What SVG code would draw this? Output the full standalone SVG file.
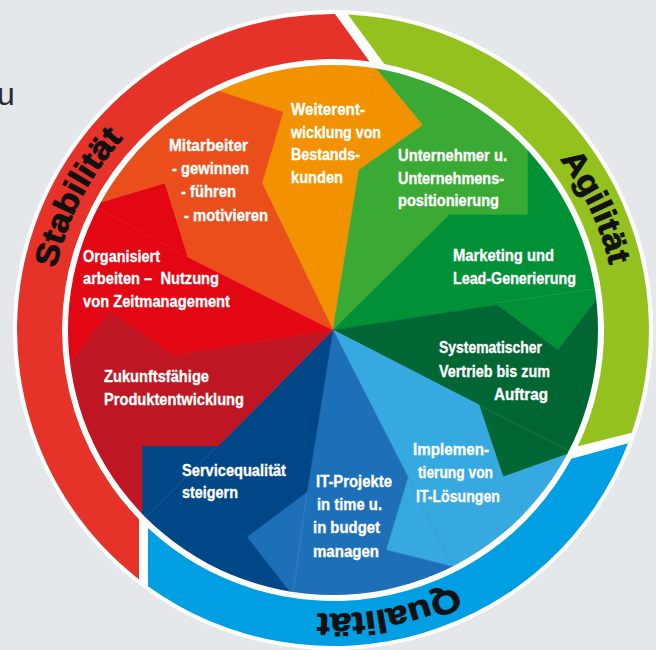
<svg xmlns="http://www.w3.org/2000/svg" width="656" height="650" viewBox="0 0 656 650">
<style>
.lbl{font-family:"Liberation Sans",Arial,sans-serif;font-weight:bold;font-size:17px;fill:#ffffff;stroke:#ffffff;stroke-width:0.35;white-space:pre}
.ring{font-family:"Liberation Sans",Arial,sans-serif;font-weight:bold;font-size:32px;fill:#111111;stroke:#111111;stroke-width:0.9}
.side{font-family:"Liberation Sans",Arial,sans-serif;font-size:32px;fill:#2b2b2b}
.seam{fill:none;stroke:#ffffff;stroke-opacity:0.16;stroke-width:0.7}
</style>
<defs>
<clipPath id="pieClip"><circle cx="333" cy="330" r="265"/></clipPath>
<path id="pStab" d="M55.7,268.5 A284,284 0 0 1 170.1,97.4"/>
<path id="pAgil" d="M559.8,159.1 A284,284 0 0 1 617,330"/>
<path id="pQual" d="M455.3,586.3 A284,284 0 0 1 259.5,604.3"/>
</defs>
<rect x="0" y="0" width="656" height="650" fill="#e5e8eb"/>
<text class="side" x="-3" y="105">u</text>
<circle cx="333" cy="330" r="320" fill="#ffffff"/>
<g id="ring-stabilitaet">
<path d="M139,579.4 A316,316 0 0 1 335,14 L369.5,61.5 A271,271 0 0 0 139,519.2 Z" fill="#e6332a"/>
<text class="ring"><textPath href="#pStab" textLength="148" lengthAdjust="spacingAndGlyphs">Stabilität</textPath></text>
</g>
<g id="ring-agilitaet">
<path d="M348,14.4 A316,316 0 0 1 631.8,432.8 L577.8,446.3 A271,271 0 0 0 384.3,63.9 Z" fill="#95c11f"/>
<text class="ring"><textPath href="#pAgil" textLength="118" lengthAdjust="spacingAndGlyphs">Agilität</textPath></text>
</g>
<g id="ring-qualitaet">
<path d="M628,443.3 A316,316 0 0 1 148,586.2 L148,528 A271,271 0 0 0 571.4,458.8 Z" fill="#009fe3"/>
<text class="ring"><textPath href="#pQual" textLength="142" lengthAdjust="spacingAndGlyphs">Qualität</textPath></text>
</g>
<g id="pie" clip-path="url(#pieClip)">
<g id="seg-weiterentwicklung">
<path d="M333,330 L262,183 L283,112 L218,91 L153,70 L93.9,-15.3 L327.9,-90 L329,11 L376,68 L423,125 L359,170 Z" fill="#f39200" stroke="#f39200" stroke-width="0.6"/>
<path d="M376,68 L359,170" fill="none" stroke="#c97a00" stroke-opacity="0.5" stroke-width="0.7" stroke-dasharray="2 2"/>
</g>
<g id="seg-unternehmer">
<path d="M333,330 L359,170 L423,125 L376,68 L329,11 L327.9,-90 L578.7,-10.7 L528,60 L528,145 L528,215 L449,215 Z" fill="#3aaa35" stroke="#3aaa35" stroke-width="0.6"/>
</g>
<g id="seg-marketing">
<path d="M333,330 L449,215 L528,215 L528,145 L528,60 L578.7,-10.7 L736.3,212.8 L642,240 L600,295 L558,350 L497,305 Z" fill="#009036" stroke="#009036" stroke-width="0.6"/>
<path class="seam" d="M497,303 L600,288"/>
</g>
<g id="seg-vertrieb">
<path d="M333,330 L497,305 L558,350 L600,295 L642,240 L736.3,212.8 L731.1,464 L633,431 L568,454 L503,477 L479,405 Z" fill="#006633" stroke="#006633" stroke-width="0.6"/>
<path class="seam" d="M479,405 L573,453"/>
</g>
<g id="seg-implementierung">
<path d="M333,330 L479,405 L503,477 L568,454 L633,431 L731.1,464 L584,666.8 L522,584 L454,567 L386,550 L408,477 Z" fill="#36a9e1" stroke="#36a9e1" stroke-width="0.6"/>
<path d="M408,477 L454,570" fill="none" stroke="#1d6fb8" stroke-opacity="0.35" stroke-width="0.7"/>
</g>
<g id="seg-itprojekte">
<path d="M333,330 L408,477 L386,550 L454,567 L522,584 L584,666.8 L333,750 L333,647 L290,592 L247,537 L307,492 Z" fill="#1d6fb8" stroke="#1d6fb8" stroke-width="0.6"/>
<path class="seam" d="M307,492 L293,595"/>
</g>
<g id="seg-service">
<path d="M333,330 L307,492 L247,537 L290,592 L333,647 L333,750 L90.3,672.8 L142,600 L142,514 L142,446 L218,446 Z" fill="#004787" stroke="#004787" stroke-width="0.6"/>
<path class="seam" d="M143,520 L220,443"/>
</g>
<g id="seg-zukunft">
<path d="M333,330 L218,446 L142,446 L142,514 L142,600 L90.3,672.8 L-70.3,447.2 L26,419 L68,365 L110,311 L173,355 Z" fill="#be1622" stroke="#be1622" stroke-width="0.6"/>
</g>
<g id="seg-organisiert">
<path d="M333,330 L173,355 L110,311 L68,365 L26,419 L-70.3,447.2 L-62.9,189.8 L31,223 L98,203 L165,183 L188,257 Z" fill="#e30613" stroke="#e30613" stroke-width="0.6"/>
<path d="M98,208 L187,257" fill="none" stroke="#e94e1b" stroke-opacity="0.45" stroke-width="0.7"/>
</g>
<g id="seg-mitarbeiter">
<path d="M333,330 L188,257 L165,183 L98,203 L31,223 L-62.9,189.8 L93.9,-15.3 L153,70 L218,91 L283,112 L262,183 Z" fill="#e94e1b" stroke="#e94e1b" stroke-width="0.6"/>
</g>
</g>
<g id="labels">
<g id="lbl-weiterentwicklung">
<text class="lbl" x="291" y="115" textLength="74" lengthAdjust="spacingAndGlyphs">Weiterent-</text>
<text class="lbl" x="291" y="138" textLength="90" lengthAdjust="spacingAndGlyphs">wicklung von</text>
<text class="lbl" x="291" y="160" textLength="69" lengthAdjust="spacingAndGlyphs">Bestands-</text>
<text class="lbl" x="291" y="183" textLength="52" lengthAdjust="spacingAndGlyphs">kunden</text>
</g>
<g id="lbl-unternehmer">
<text class="lbl" x="398" y="161" textLength="109" lengthAdjust="spacingAndGlyphs">Unternehmer u.</text>
<text class="lbl" x="398" y="184" textLength="106" lengthAdjust="spacingAndGlyphs">Unternehmens-</text>
<text class="lbl" x="398" y="206" textLength="101" lengthAdjust="spacingAndGlyphs">positionierung</text>
</g>
<g id="lbl-marketing">
<text class="lbl" x="453" y="261" textLength="101" lengthAdjust="spacingAndGlyphs">Marketing und</text>
<text class="lbl" x="453" y="284" textLength="123" lengthAdjust="spacingAndGlyphs">Lead-Generierung</text>
</g>
<g id="lbl-vertrieb">
<text class="lbl" x="439" y="353" textLength="103" lengthAdjust="spacingAndGlyphs">Systematischer</text>
<text class="lbl" x="439" y="377" textLength="111" lengthAdjust="spacingAndGlyphs">Vertrieb bis zum</text>
<text class="lbl" x="494" y="400" textLength="54" lengthAdjust="spacingAndGlyphs">Auftrag</text>
</g>
<g id="lbl-implementierung">
<text class="lbl" x="413" y="455" textLength="76" lengthAdjust="spacingAndGlyphs">Implemen-</text>
<text class="lbl" x="418" y="478" textLength="75" lengthAdjust="spacingAndGlyphs">tierung von</text>
<text class="lbl" x="416" y="502" textLength="84" lengthAdjust="spacingAndGlyphs">IT-Lösungen</text>
</g>
<g id="lbl-itprojekte">
<text class="lbl" x="316" y="487" textLength="76" lengthAdjust="spacingAndGlyphs">IT-Projekte</text>
<text class="lbl" x="317" y="510" textLength="65" lengthAdjust="spacingAndGlyphs">in time u.</text>
<text class="lbl" x="313" y="533" textLength="67" lengthAdjust="spacingAndGlyphs">in budget</text>
<text class="lbl" x="313" y="557" textLength="66" lengthAdjust="spacingAndGlyphs">managen</text>
</g>
<g id="lbl-service">
<text class="lbl" x="182" y="476" textLength="104" lengthAdjust="spacingAndGlyphs">Servicequalität</text>
<text class="lbl" x="182" y="498" textLength="56" lengthAdjust="spacingAndGlyphs">steigern</text>
</g>
<g id="lbl-zukunft">
<text class="lbl" x="104" y="382" textLength="105" lengthAdjust="spacingAndGlyphs">Zukunftsfähige</text>
<text class="lbl" x="104" y="405" textLength="140" lengthAdjust="spacingAndGlyphs">Produktentwicklung</text>
</g>
<g id="lbl-organisiert">
<text class="lbl" x="83" y="262" textLength="77" lengthAdjust="spacingAndGlyphs">Organisiert</text>
<text class="lbl" x="83" y="284" textLength="136" lengthAdjust="spacingAndGlyphs">arbeiten –  Nutzung</text>
<text class="lbl" x="83" y="307" textLength="147" lengthAdjust="spacingAndGlyphs">von Zeitmanagement</text>
</g>
<g id="lbl-mitarbeiter">
<text class="lbl" x="169" y="151" textLength="79" lengthAdjust="spacingAndGlyphs">Mitarbeiter</text>
<text class="lbl" x="172" y="174" textLength="77" lengthAdjust="spacingAndGlyphs">- gewinnen</text>
<text class="lbl" x="181" y="197" textLength="55" lengthAdjust="spacingAndGlyphs">- führen</text>
<text class="lbl" x="184" y="221" textLength="84" lengthAdjust="spacingAndGlyphs">- motivieren</text>
</g>
</g>
<g id="connectors"></g>
</svg>
